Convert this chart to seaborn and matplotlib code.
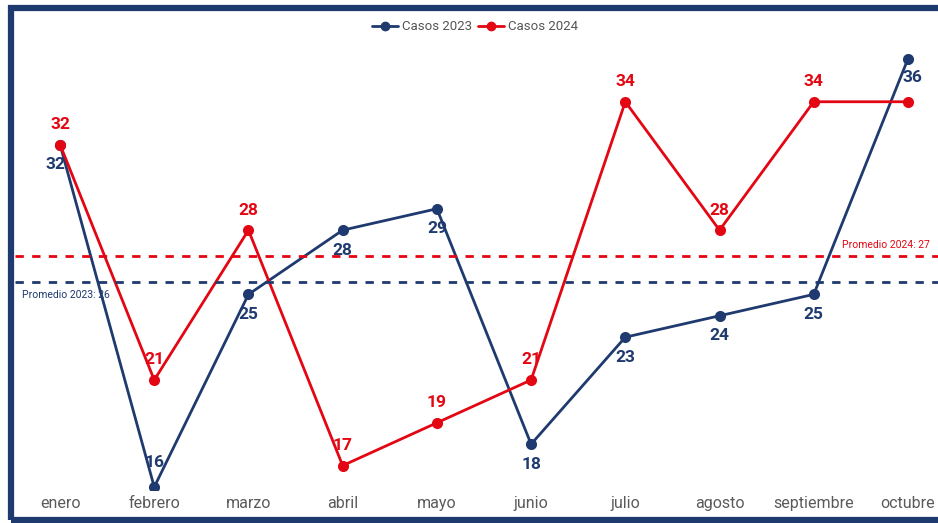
import matplotlib
matplotlib.use("Agg")
import matplotlib.pyplot as plt
from matplotlib.patches import Rectangle
from matplotlib.lines import Line2D
import seaborn as sns
import pandas as pd

meses = ["enero", "febrero", "marzo", "abril", "mayo", "junio", "julio",
         "agosto", "septiembre", "octubre"]
casos_2023 = [32, 16, 25, 28, 29, 18, 23, 24, 25, 36]
casos_2024 = [32, 21, 28, 17, 19, 21, 34, 28, 34, 34]
series = ["Casos 2023", "Casos 2024"]

NAVY = "#1f3a6e"
RED = "#e30613"

sns.set_theme(style="white")
plt.rcParams["font.family"] = ["Roboto", "DejaVu Sans"]

df = pd.DataFrame({
    "mes": meses * 2,
    "casos": casos_2023 + casos_2024,
    "serie": [series[0]] * len(meses) + [series[1]] * len(meses),
})

W, H = 938, 523
fig = plt.figure(figsize=(W / 100, H / 100), dpi=100)
ax = fig.add_axes([15 / W, (H - 490) / H, 923 / W, 476 / H])

sns.lineplot(data=df, x="mes", y="casos", hue="serie", palette=[NAVY, RED],
             marker="o", markersize=8, markeredgewidth=0, linewidth=2,
             ax=ax, legend=False, sort=False)

ax.set_xlim(-0.478, 9.319)
ax.set_ylim(15.86, 38.10)
for s in ax.spines.values():
    s.set_visible(False)
ax.set_yticks([])
ax.set_xlabel("")
ax.set_ylabel("")
ax.tick_params(axis="x", length=0, pad=4, labelsize=11.5, labelcolor="#5a5a5a")

# averages
m23 = sum(casos_2023) / len(casos_2023)
m24 = sum(casos_2024) / len(casos_2024)
ax.axhline(m23, color=NAVY, lw=2, ls=(0, (3, 3)))
ax.axhline(m24, color=RED, lw=2, ls=(0, (3, 3)))
ax.text(-0.40, m23 - 0.62, f"Promedio 2023: {m23:.0f}", color=NAVY,
        fontsize=7.5, ha="left", va="center")
ax.text(9.23, m24 + 0.5, f"Promedio 2024: {m24:.0f}", color=RED,
        fontsize=7.5, ha="right", va="center")

# data labels
off23 = {0: (-5, -20), 1: (0, 25), 9: (4, -19)}
for i, v in enumerate(casos_2023):
    dx, dy = off23.get(i, (0, -20))
    ax.annotate(str(v), (i, v), xytext=(dx, dy), textcoords="offset pixels",
                ha="center", va="center", color=NAVY, fontsize=12.5,
                fontweight="bold")
for i, v in enumerate(casos_2024):
    if i == 9:
        continue
    ax.annotate(str(v), (i, v), xytext=(0, 20), textcoords="offset pixels",
                ha="center", va="center", color=RED, fontsize=12.5,
                fontweight="bold")

# legend
handles = [Line2D([0], [0], color=c, lw=2, marker="o", markersize=6)
           for c in (NAVY, RED)]
fig.legend(handles, series, loc="center", bbox_to_anchor=(475 / W, 1 - 27 / H),
           ncol=2, frameon=False, fontsize=9.5, labelcolor="#555555",
           handlelength=2.0, handletextpad=0.3, columnspacing=0.4)

# frame
fig.add_artist(Rectangle((11 / W, 3 / H), 1.1, 1 - 11 / H,
                         transform=fig.transFigure, fill=False,
                         edgecolor=NAVY, lw=4.5, clip_on=False))

fig.savefig("out.png", dpi=100)
